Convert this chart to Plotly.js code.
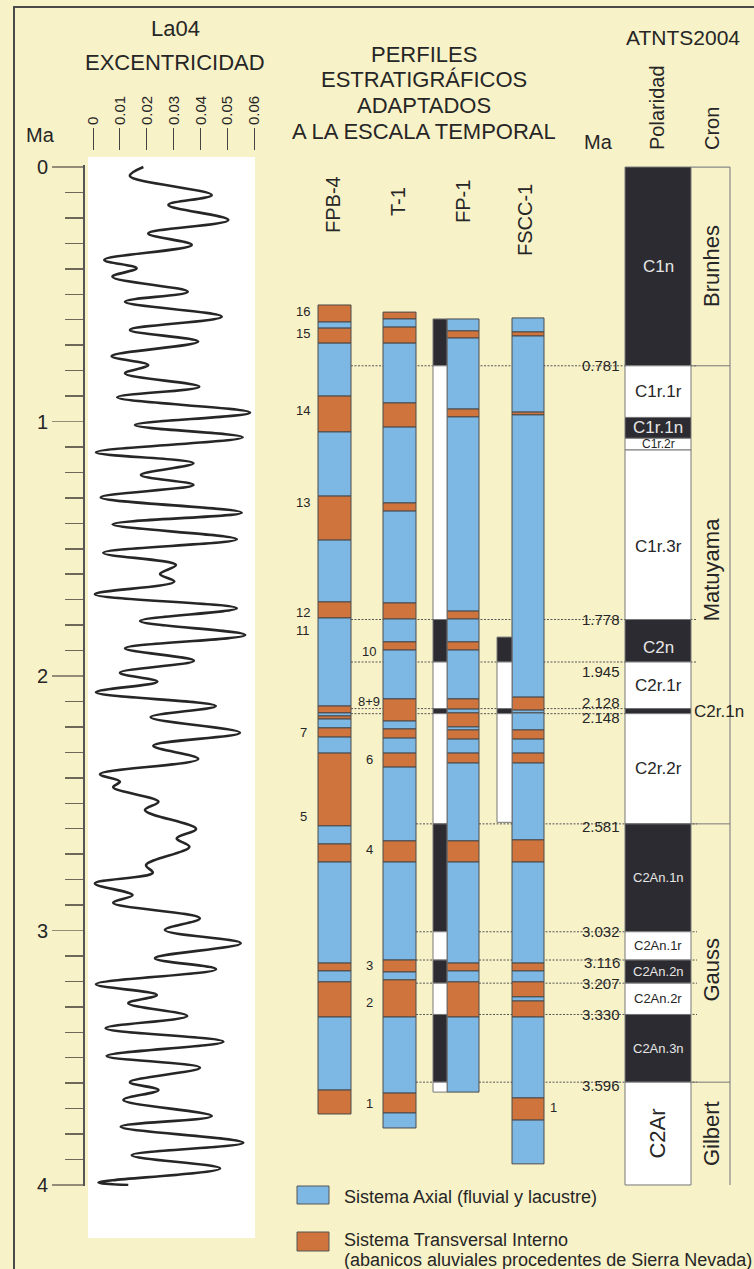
<!DOCTYPE html>
<html><head><meta charset="utf-8">
<script src="https://cdn.plot.ly/plotly-3.0.1.min.js"></script>
<style>html,body{margin:0;padding:0;background:#F8F2C8;}#chart{width:754px;height:1269px;}</style>
</head><body><div id="chart"></div>
<script>
// ---------------- DATA ----------------
// La04 eccentricity (turning points)
const eccMa = [0.000,0.035,0.110,0.149,0.208,0.261,0.306,0.365,0.398,0.431,0.490,0.529,0.588,0.640,0.686,0.743,0.778,0.811,0.863,0.905,0.965,1.014,1.062,1.121,1.164,1.210,1.249,1.298,1.358,1.404,1.463,1.516,1.564,1.599,1.629,1.679,1.734,1.784,1.839,1.891,1.940,1.987,2.022,2.064,2.118,2.162,2.223,2.274,2.326,2.386,2.415,2.437,2.494,2.527,2.601,2.638,2.671,2.743,2.773,2.815,2.861,2.891,2.952,2.998,3.050,3.109,3.152,3.211,3.253,3.286,3.336,3.384,3.437,3.493,3.539,3.596,3.627,3.666,3.729,3.771,3.834,3.883,3.935,3.990,4.000];
const eccValue = [0.0187,0.0137,0.0441,0.0280,0.0503,0.0205,0.0367,0.0042,0.0162,0.0072,0.0352,0.0119,0.0478,0.0137,0.0391,0.0069,0.0205,0.0119,0.0395,0.0090,0.0583,0.0156,0.0556,0.0011,0.0373,0.0178,0.0373,0.0029,0.0552,0.0073,0.0534,0.0038,0.0308,0.0249,0.0302,0.0007,0.0534,0.0175,0.0565,0.0119,0.0375,0.0100,0.0239,0.0011,0.0456,0.0214,0.0546,0.0224,0.0391,0.0026,0.0100,0.0075,0.0243,0.0193,0.0383,0.0311,0.0358,0.0197,0.0222,0.0007,0.0147,0.0075,0.0397,0.0267,0.0549,0.0230,0.0457,0.0011,0.0237,0.0131,0.0350,0.0047,0.0484,0.0051,0.0397,0.0137,0.0243,0.0113,0.0441,0.0103,0.0558,0.0144,0.0472,0.0020,0.0131];
const eccTickVals = [0,0.01,0.02,0.03,0.04,0.05,0.06];
const eccTickText = ['0','0.01','0.02','0.03','0.04','0.05','0.06'];
const maTickVals = [0,1,2,3,4];
const maTickText = ['0','1','2','3','4'];

// Stratigraphic profiles (A = Sistema Axial, T = Sistema Transversal Interno)
const profileNames = ['FPB-4','T-1','FP-1','FSCC-1'];
const fpb4Bounds = [0.542,0.609,0.633,0.692,0.900,1.041,1.293,1.466,1.709,1.772,2.118,2.145,2.157,2.169,2.204,2.240,2.303,2.589,2.660,2.731,3.128,3.159,3.202,3.340,3.627,3.721];
const fpb4Facies = ['T','A','T','A','T','A','T','A','T','A','T','A','T','A','T','A','T','A','T','A','T','A','T','A','T'];
const t1Bounds = [0.570,0.597,0.629,0.692,0.927,1.022,1.320,1.352,1.713,1.776,1.866,1.898,2.090,2.177,2.208,2.244,2.303,2.358,2.648,2.731,3.116,3.163,3.194,3.340,3.639,3.717,3.776];
const t1Facies = ['T','A','T','A','T','A','T','A','T','A','T','A','T','A','T','A','T','A','T','A','T','A','T','A','T','A'];
const fp1Bounds = [0.597,0.644,0.672,0.951,0.982,1.745,1.776,1.866,1.898,2.090,2.130,2.145,2.200,2.212,2.248,2.303,2.342,2.648,2.731,3.128,3.159,3.202,3.340,3.635];
const fp1Facies = ['A','T','A','T','A','T','A','T','A','T','A','T','A','T','A','T','A','T','A','T','A','T','A'];
const fscc1Bounds = [0.593,0.648,0.664,0.963,0.974,2.083,2.134,2.145,2.212,2.248,2.303,2.342,2.644,2.731,3.128,3.159,3.202,3.261,3.277,3.340,3.658,3.745,3.917];
const fscc1Facies = ['A','T','A','T','A','T','A','A','T','A','T','A','T','A','T','A','T','A','T','A','T','A'];

// Magnetostratigraphy of the profiles (N normal, R reverse)
const fp1PolBounds = [0.597,0.781,1.778,1.945,2.128,2.148,2.581,3.005,3.116,3.207,3.330,3.596,3.635];
const fp1Pol = ['N','R','N','R','N','R','N','R','N','R','N','R'];
const fscc1PolBounds = [1.847,1.945,2.128,2.148,2.575];
const fscc1Pol = ['N','R','N','R'];

// ATNTS2004
const chronNames = ['C1n','C1r.1r','C1r.1n','C1r.2r','C1r.3r','C2n','C2r.1r','C2r.1n','C2r.2r','C2An.1n','C2An.1r','C2An.2n','C2An.2r','C2An.3n','C2Ar'];
const chronBounds = [0,0.781,0.984,1.066,1.112,1.778,1.945,2.128,2.148,2.581,3.005,3.116,3.207,3.330,3.596,4.0];
const chronPolarity = ['N','R','N','R','R','N','R','N','R','N','R','N','R','N','R'];
const cronNames = ['Brunhes','Matuyama','Gauss','Gilbert'];
const cronBounds = [0,0.781,2.581,3.596,4.0];
const ageLineMa = [0.781,1.778,1.945,2.128,2.148,2.581,3.005,3.116,3.207,3.330,3.596];
const ageLineText = ['0.781','1.778','1.945','2.128','2.148','2.581','3.032','3.116','3.207','3.330','3.596'];

// Numbered beds
const bedLabels = ['16','15','14','13','12','11','10','8+9','7','6','5','4','3','2','1','1'];
const bedLabelMa = [0.566,0.656,0.955,1.320,1.749,1.823,1.902,2.102,2.220,2.330,2.554,2.680,3.139,3.281,3.678,3.697];
const bedLabelSide = ['L','L','L','L','L','L','M','M','L','M','L','M','M','M','M','R'];

const legendLabels = ['Sistema Axial (fluvial y lacustre)','Sistema Transversal Interno','(abanicos aluviales procedentes de Sierra Nevada)'];

// ---------------- STYLE / LAYOUT ----------------
const W = 754, H = 1269;
const py = p => 1 - p / H;
const FONT = 'Liberation Sans, Arial, Helvetica, sans-serif';
const TXT = '#262626';
const BG = '#F8F2C8';
const faciesColor = {A:'#7DB8E5', T:'#CF743D'};
const polColor = {N:'#2C2B31', R:'#FFFFFF'};
const colX = {'FPB-4':[318,351],'T-1':[383,416],'FP-1':[447,479],'FSCC-1':[512,544]};
const polX = {'FP-1':[433,447],'FSCC-1':[497,512]};
const gptsX = [625,691], cronX = [691,730];
const bedX = {L:303, M:369, R:553};
const lineStart = [351,351,351,351,351,416,416,416,416,416,416];
const lineEnd = [697,697,697,625,625,697,697,697,697,697,697];
const ageShift = [0,0,-9,6,-4,-3,0,-2,0,0,-3];

function columnTrace(bounds, codes, xr, cmap, lc){
  const base=[], len=[], xs=[], ws=[], cols=[];
  for(let i=0;i<codes.length;i++){
    base.push(bounds[i]); len.push(bounds[i+1]-bounds[i]);
    xs.push((xr[0]+xr[1])/2); ws.push(xr[1]-xr[0]); cols.push(cmap[codes[i]]);
  }
  return {type:'bar', x:xs, y:len, base:base, width:ws, xaxis:'x', yaxis:'y',
    marker:{color:cols, line:{color:lc, width:1}}, hoverinfo:'skip', showlegend:false, textposition:'none'};
}

const traces = [
  {type:'scatter', mode:'lines', x:eccValue, y:eccMa, xaxis:'x2', yaxis:'y',
   line:{shape:'spline', smoothing:1, color:'#262626', width:2.6}, hoverinfo:'skip', showlegend:false},
  columnTrace(fpb4Bounds, fpb4Facies, colX['FPB-4'], faciesColor, '#4a4a4a'),
  columnTrace(t1Bounds, t1Facies, colX['T-1'], faciesColor, '#4a4a4a'),
  columnTrace(fp1Bounds, fp1Facies, colX['FP-1'], faciesColor, '#4a4a4a'),
  columnTrace(fscc1Bounds, fscc1Facies, colX['FSCC-1'], faciesColor, '#4a4a4a'),
  columnTrace(fp1PolBounds, fp1Pol, polX['FP-1'], polColor, '#777'),
  columnTrace(fscc1PolBounds, fscc1Pol, polX['FSCC-1'], polColor, '#777'),
  columnTrace(chronBounds, chronPolarity, gptsX, polColor, '#777')
];

const shapes = [];
shapes.push({type:'rect', xref:'paper', yref:'paper', x0:14/W, x1:1.05, y0:-0.05, y1:py(7),
  line:{color:'#4a4a4a', width:2}, fillcolor:'rgba(0,0,0,0)', layer:'below'});
shapes.push({type:'rect', xref:'x', yref:'paper', x0:88, x1:255, y0:py(1238), y1:py(157),
  line:{width:0}, fillcolor:'#FFFFFF', layer:'below'});
ageLineMa.forEach((m,i)=>{
  shapes.push({type:'line', xref:'x', yref:'y', x0:lineStart[i], x1:lineEnd[i], y0:m, y1:m,
    line:{color:'#555', width:1, dash:'2px,1.5px'}, layer:'below'});
});
shapes.push({type:'line', xref:'x', yref:'y', x0:cronX[1], x1:cronX[1], y0:cronBounds[0], y1:cronBounds[cronBounds.length-1], line:{color:'#888', width:1.2}});
shapes.push({type:'line', xref:'x', yref:'y', x0:cronX[0], x1:cronX[1], y0:cronBounds[0], y1:cronBounds[0], line:{color:'#888', width:1.2}});
cronBounds.slice(1,-1).forEach(m=>{
  shapes.push({type:'line', xref:'x', yref:'y', x0:cronX[0], x1:cronX[1], y0:m, y1:m, line:{color:'#777', width:1}});
});
shapes.push({type:'rect', xref:'x', yref:'paper', x0:297, x1:329, y0:py(1204), y1:py(1186), fillcolor:faciesColor.A, line:{color:'#555', width:1}});
shapes.push({type:'rect', xref:'x', yref:'paper', x0:297, x1:329, y0:py(1251), y1:py(1232), fillcolor:faciesColor.T, line:{color:'#555', width:1}});

const ann = [];
function ptxt(text, x, y, size, extra){
  ann.push(Object.assign({text:text, x:x, y:py(y), xref:'x', yref:'paper', showarrow:false,
    font:{family:FONT, size:size, color:TXT}, xanchor:'center', yanchor:'middle'}, extra||{}));
}
ptxt('La04', 175, 28, 22);
ptxt('EXCENTRICIDAD', 175, 63, 22);
ptxt('PERFILES', 424, 55, 22);
ptxt('ESTRATIGRÁFICOS', 424, 80, 22);
ptxt('ADAPTADOS', 424, 105, 22);
ptxt('A LA ESCALA TEMPORAL', 424, 131, 22);
ptxt('ATNTS2004', 683, 37, 21);
ptxt('Polaridad', 657, 108, 20, {textangle:-90});
ptxt('Cron', 712, 129, 20, {textangle:-90});
ptxt('Ma', 598, 142, 20);
ptxt('Ma', 40, 135, 20);
const nameX = [333,398,463,525], nameY = [205,202,202,220];
profileNames.forEach((n,i)=>ptxt(n, nameX[i], nameY[i], 20, {textangle:-90}));
bedLabels.forEach((t,i)=>{
  ann.push({text:t, x:bedX[bedLabelSide[i]], y:bedLabelMa[i], xref:'x', yref:'y', showarrow:false,
    font:{family:FONT, size:13, color:TXT}, xanchor:'center', yanchor:'middle'});
});
ageLineMa.forEach((m,i)=>{
  ann.push({text:ageLineText[i], x:622, y:m, xref:'x', yref:'y', showarrow:false, yshift:ageShift[i],
    font:{family:FONT, size:15, color:TXT}, xanchor:'right', yanchor:'middle'});
});
const chronSize = {'C1r.2r':12,'C2An.1n':13,'C2An.1r':13,'C2An.2n':13,'C2An.2r':13,'C2An.3n':13,'C2Ar':22};
const chronShift = {'C1r.3r':-12,'C2n':-7};
chronNames.forEach((c,i)=>{
  const mid = (chronBounds[i]+chronBounds[i+1])/2;
  const dark = chronPolarity[i]==='N';
  const a = {text:c, x:(gptsX[0]+gptsX[1])/2, y:mid, xref:'x', yref:'y', showarrow:false,
    font:{family:FONT, size:chronSize[c]||17, color: dark ? '#E6E6E6' : TXT}, xanchor:'center', yanchor:'middle',
    yshift: chronShift[c]||0};
  if(c==='C2Ar'){ a.textangle=-90; }
  if(c==='C2r.1n'){ a.x = gptsX[1]+1; a.xanchor='left'; a.font.color=TXT; }
  ann.push(a);
});
const cronShift = {'Matuyama':25,'Gauss':-17};
cronNames.forEach((c,i)=>{
  ann.push({text:c, x:(cronX[0]+cronX[1])/2+1, y:(cronBounds[i]+cronBounds[i+1])/2, xref:'x', yref:'y', showarrow:false,
    textangle:-90, yshift:cronShift[c]||0, font:{family:FONT, size:22, color:TXT}, xanchor:'center', yanchor:'middle'});
});
ptxt(legendLabels[0], 342, 1197, 18, {xanchor:'left'});
ptxt(legendLabels[1], 342, 1240, 18, {xanchor:'left'});
ptxt(legendLabels[2], 342, 1260, 18, {xanchor:'left'});

const layout = {
  width:W, height:H, margin:{l:0,r:0,t:0,b:0,pad:0},
  paper_bgcolor:BG, plot_bgcolor:'rgba(0,0,0,0)',
  showlegend:false, barmode:'overlay', bargap:0,
  font:{family:FONT, color:TXT},
  xaxis:{range:[0,W], domain:[0,1], visible:false, fixedrange:true},
  xaxis2:{range:[-93/2692, 661/2692], overlaying:'x', anchor:'free', position:py(150), side:'top',
    tickmode:'array', tickvals:eccTickVals, ticktext:eccTickText, tickangle:-90,
    ticks:'outside', ticklen:22, tickwidth:1, tickcolor:'#444', showgrid:false, zeroline:false, showline:false,
    tickfont:{family:FONT, size:15, color:TXT}},
  yaxis:{range:[4.004,-0.008], domain:[py(1186), py(165)], anchor:'free', position:83/W, side:'left',
    showline:true, linecolor:'#555', linewidth:1.5,
    tickmode:'array', tickvals:maTickVals, ticktext:maTickText,
    ticks:'outside', ticklen:31, tickwidth:1.5, tickcolor:'#948c78',
    tickfont:{family:FONT, size:20, color:TXT}, showgrid:false, zeroline:false,
    minor:{dtick:0.1, tick0:0, ticks:'outside', ticklen:18, tickwidth:1.5, tickcolor:'#6e6858', showgrid:false}},
  shapes:shapes, annotations:ann
};
Plotly.newPlot('chart', traces, layout, {staticPlot:true, displayModeBar:false});
</script></body></html>
